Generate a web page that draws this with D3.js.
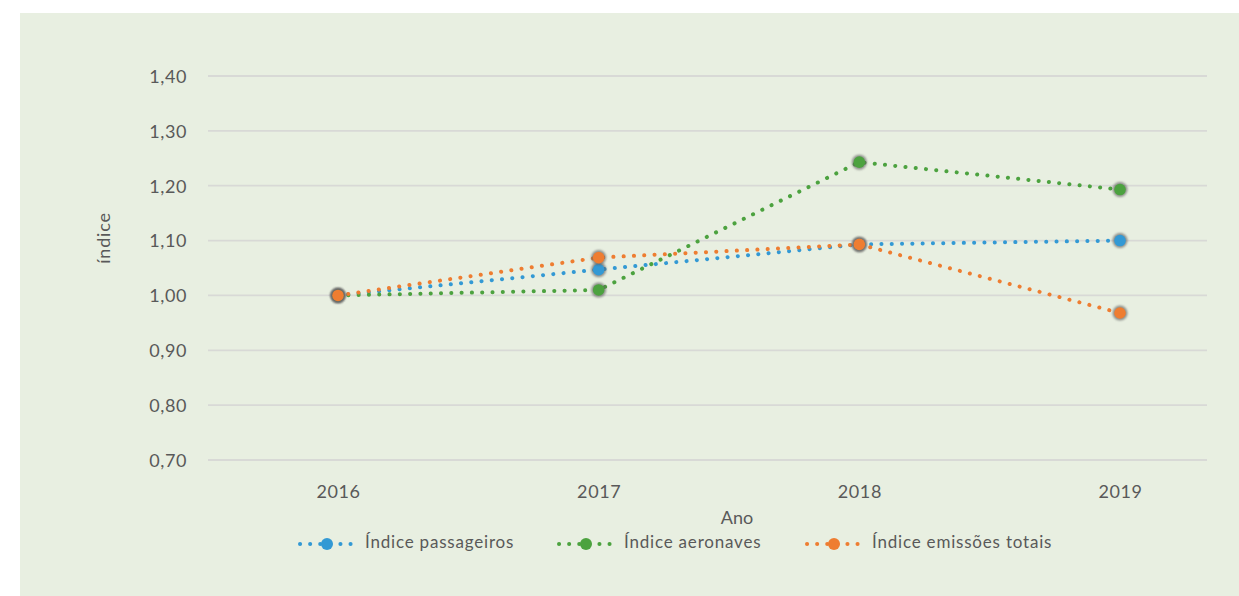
<!DOCTYPE html>
<html><head><meta charset="utf-8">
<script src="https://cdn.jsdelivr.net/npm/d3@7"></script>
<style>
body{margin:0;background:#fff;}
svg text{font-family:Lato, "Open Sans", sans-serif;fill:#595959;}
</style></head>
<body>
<svg id="c" width="1239" height="596"></svg>
<script>
const years = ["2016","2017","2018","2019"];
const passageiros = [1.00, 1.047, 1.093, 1.10];
const aeronaves = [1.00, 1.01, 1.243, 1.193];
const emissoes = [1.00, 1.069, 1.093, 0.968];
const yTicks = [0.70,0.80,0.90,1.00,1.10,1.20,1.30,1.40];
const seriesNames = ["Índice passageiros","Índice aeronaves","Índice emissões totais"];
const colors = ["#3399D4","#4CA23F","#EE7D31"];

const svg = d3.select("#c");
const defs = svg.append("defs");
const f = defs.append("filter").attr("id","glow").attr("x","-50%").attr("y","-50%").attr("width","200%").attr("height","200%");
f.append("feGaussianBlur").attr("stdDeviation",1.3);

svg.append("rect").attr("x",20).attr("y",13).attr("width",1219).attr("height",583).attr("fill","#E8EFE1");

const x = d3.scalePoint().domain(years).range([338,1120]);
const y = d3.scaleLinear().domain([0.7,1.4]).range([460,76]);
const gridX0 = 208, gridX1 = 1207;

// grid
svg.append("g").selectAll("line").data(yTicks).join("line")
  .attr("x1",gridX0).attr("x2",gridX1).attr("y1",d=>y(d)).attr("y2",d=>y(d))
  .attr("stroke","#D8D9D6").attr("stroke-width",1.8);

// y axis labels
const fmt = d=>d3.format(".2f")(d).replace(".",",");
const yAxis = d3.axisLeft(y).tickValues(yTicks).tickFormat(fmt).tickSize(0).tickPadding(0);
const gy = svg.append("g").attr("transform","translate(187,0)").call(yAxis);
gy.select(".domain").remove();
gy.selectAll("text").style("font-size","18px").style("letter-spacing","0.6px").style("font-family","Lato, sans-serif").attr("fill","#595959").attr("dy","0.35em");

// x axis labels
const xAxis = d3.axisBottom(x).tickSize(0).tickPadding(0);
const gx = svg.append("g").attr("transform","translate(0,492)").call(xAxis);
gx.select(".domain").remove();
gx.selectAll("text").style("font-size","18px").style("letter-spacing","0.6px").style("font-family","Lato, sans-serif").attr("fill","#595959").attr("dy","0.35em");

// axis titles
svg.append("text").attr("x",737).attr("y",519).attr("text-anchor","middle").attr("dominant-baseline","middle").style("font-size","18px").text("Ano");
svg.append("text").attr("transform","translate(105,238) rotate(-90)").attr("text-anchor","middle").attr("dominant-baseline","middle").style("font-size","18px").style("letter-spacing","0.8px").text("índice");

const allSeries = [passageiros, aeronaves, emissoes];
const line = d3.line().x((d,i)=>x(years[i])).y(d=>y(d));

function marker(g, cx, cy, color){
  g.append("circle").attr("cx",cx).attr("cy",cy).attr("r",7.5).attr("fill","#5e5e5e").attr("opacity",0.65).attr("filter","url(#glow)");
  g.append("circle").attr("cx",cx).attr("cy",cy).attr("r",5.8).attr("fill",color);
}

allSeries.forEach((s,k)=>{
  const g = svg.append("g");
  g.append("path").attr("d",line(s)).attr("fill","none").attr("stroke",colors[k])
    .attr("stroke-width",4).attr("stroke-linecap","round").attr("stroke-dasharray","0.1 10.2");
});
allSeries.forEach((s,k)=>{
  const g = svg.append("g");
  s.forEach((v,i)=>marker(g, x(years[i]), y(v), colors[k]));
});

// legend
const legX = [327, 586, 834];
const legY = 544;
seriesNames.forEach((n,k)=>{
  const g = svg.append("g");
  g.append("line").attr("x1",legX[k]-27).attr("x2",legX[k]+25).attr("y1",legY).attr("y2",legY)
    .attr("stroke",colors[k]).attr("stroke-width",4).attr("stroke-linecap","round").attr("stroke-dasharray","0.1 10");
  g.append("circle").attr("cx",legX[k]).attr("cy",legY).attr("r",6).attr("fill",colors[k]);
  g.append("text").attr("x",legX[k]+38).attr("y",legY).attr("dominant-baseline","middle").style("font-size","17px").style("letter-spacing","0.8px").text(n);
});
</script>
</body></html>
